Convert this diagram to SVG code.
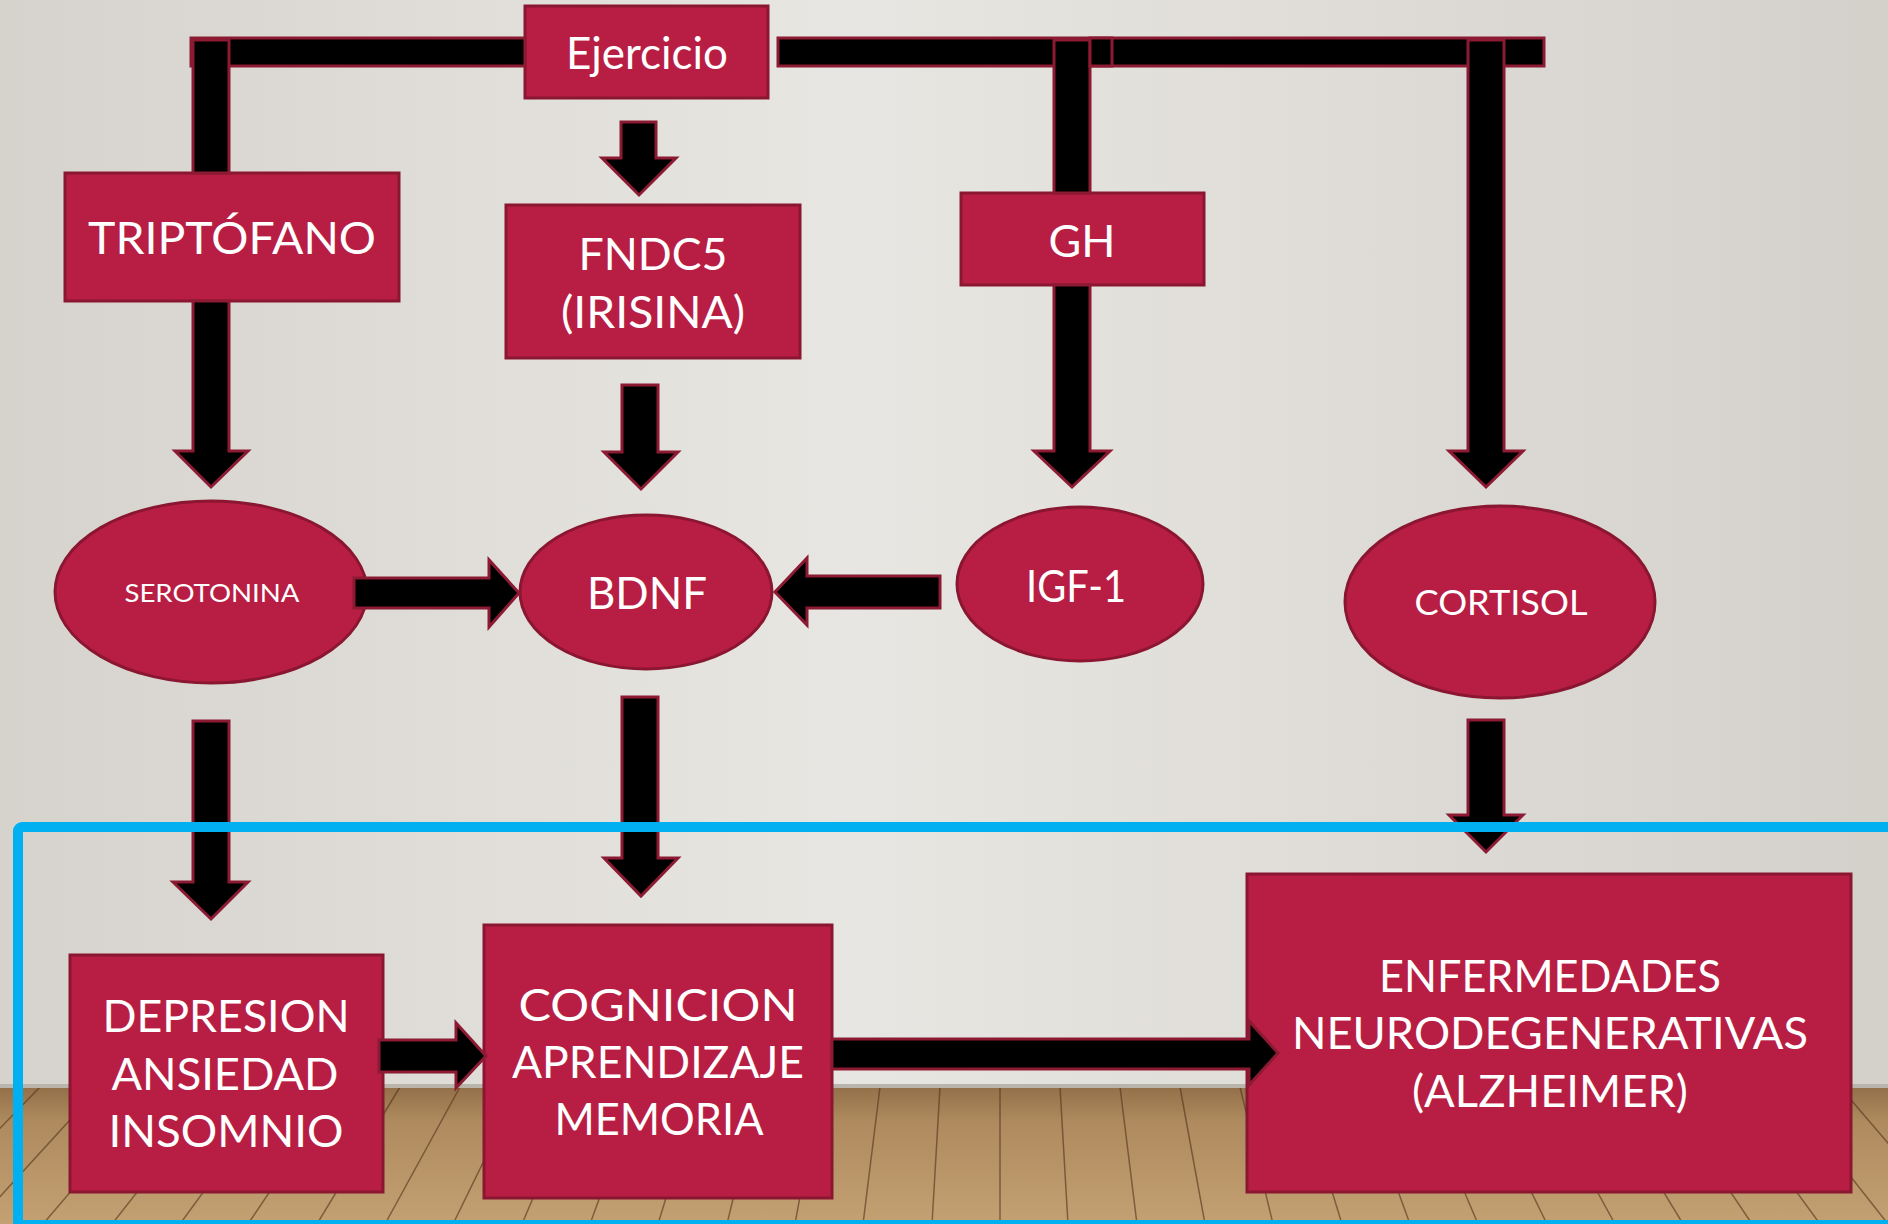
<svg xmlns="http://www.w3.org/2000/svg" width="1888" height="1224" viewBox="0 0 1888 1224">
<defs>
<linearGradient id="wall" x1="0" y1="0" x2="1" y2="0">
<stop offset="0" stop-color="#D6D3CD"/>
<stop offset="0.45" stop-color="#E8E6E2"/>
<stop offset="1" stop-color="#D4D1CB"/>
</linearGradient>
<linearGradient id="floor" x1="0" y1="0" x2="0" y2="1">
<stop offset="0" stop-color="#94704A"/>
<stop offset="0.25" stop-color="#AE8A5E"/>
<stop offset="1" stop-color="#C4A173"/>
</linearGradient>
<style>
.box{fill:#B81E43;stroke:#8A1631;stroke-width:3}
.arrow{fill:#000;stroke:#8C1A33;stroke-width:3;stroke-linejoin:miter}
.t{fill:#fff;font-family:Lato,"Open Sans","Liberation Sans",sans-serif;text-anchor:middle;font-size:45px}
</style>
</defs>
<g id="background">
<rect x="0" y="0" width="1888" height="1224" fill="url(#wall)"/>
<rect x="0" y="1087" width="1888" height="137" fill="url(#floor)"/>
<path d="M-20 1087L-162 1224M40 1087L-93 1224M100 1087L-25 1224M160 1087L43 1224M220 1087L112 1224M280 1087L180 1224M340 1087L248 1224M400 1087L317 1224M460 1087L385 1224M520 1087L453 1224M580 1087L522 1224M640 1087L590 1224M700 1087L658 1224M760 1087L727 1224M820 1087L795 1224M880 1087L863 1224M940 1087L932 1224M1000 1087L1000 1224M1060 1087L1068 1224M1120 1087L1137 1224M1180 1087L1205 1224M1240 1087L1273 1224M1300 1087L1342 1224M1360 1087L1410 1224M1420 1087L1478 1224M1480 1087L1547 1224M1540 1087L1615 1224M1600 1087L1683 1224M1660 1087L1752 1224M1720 1087L1820 1224M1780 1087L1888 1224M1840 1087L1957 1224" stroke="#4E3319" stroke-width="1.5" stroke-opacity="0.6" fill="none"/>
<rect x="0" y="1084" width="1888" height="4" fill="#B9B4AC"/>
</g>
<g id="nodes">
<g id="ejercicio"><rect class="box" x="525" y="6" width="243" height="92"/><text class="t" x="647" y="69" textLength="162" lengthAdjust="spacingAndGlyphs">Ejercicio</text></g>
<g id="triptofano"><rect class="box" x="65" y="173" width="334" height="128"/><text class="t" x="232" y="254" textLength="288" lengthAdjust="spacingAndGlyphs">TRIPTÓFANO</text></g>
<g id="fndc5"><rect class="box" x="506" y="205" width="294" height="153"/><text class="t" x="653" y="270" textLength="149" lengthAdjust="spacingAndGlyphs">FNDC5</text><text class="t" x="653" y="328" textLength="184" lengthAdjust="spacingAndGlyphs">(IRISINA)</text></g>
<g id="gh"><rect class="box" x="961" y="193" width="243" height="92"/><text class="t" x="1082" y="257" textLength="67" lengthAdjust="spacingAndGlyphs">GH</text></g>
<g id="serotonina"><ellipse class="box" cx="211" cy="592" rx="156" ry="91"/><text class="t" x="212" y="602" style="font-size:25px" textLength="175" lengthAdjust="spacingAndGlyphs">SEROTONINA</text></g>
<g id="bdnf"><ellipse class="box" cx="646" cy="592" rx="126" ry="77"/><text class="t" x="647" y="609" textLength="120" lengthAdjust="spacingAndGlyphs">BDNF</text></g>
<g id="igf1"><ellipse class="box" cx="1080" cy="584" rx="123" ry="77"/><text class="t" x="1076" y="602" textLength="100" lengthAdjust="spacingAndGlyphs">IGF-1</text></g>
<g id="cortisol"><ellipse class="box" cx="1500" cy="602" rx="155" ry="96"/><text class="t" x="1501" y="615" style="font-size:35px" textLength="173" lengthAdjust="spacingAndGlyphs">CORTISOL</text></g>
<g id="depresion"><rect class="box" x="70" y="955" width="313" height="237"/><text class="t" x="226" y="1032" textLength="247" lengthAdjust="spacingAndGlyphs">DEPRESION</text><text class="t" x="225" y="1090" textLength="227" lengthAdjust="spacingAndGlyphs">ANSIEDAD</text><text class="t" x="226" y="1147" textLength="235" lengthAdjust="spacingAndGlyphs">INSOMNIO</text></g>
<g id="cognicion"><rect class="box" x="484" y="925" width="348" height="273"/><text class="t" x="658" y="1021" textLength="279" lengthAdjust="spacingAndGlyphs">COGNICION</text><text class="t" x="658" y="1078" textLength="292" lengthAdjust="spacingAndGlyphs">APRENDIZAJE</text><text class="t" x="659" y="1135" textLength="209" lengthAdjust="spacingAndGlyphs">MEMORIA</text></g>
<g id="enfermedades"><rect class="box" x="1247" y="874" width="604" height="318"/><text class="t" x="1550" y="992" style="font-size:44px" textLength="342" lengthAdjust="spacingAndGlyphs">ENFERMEDADES</text><text class="t" x="1550" y="1049" style="font-size:44px" textLength="516" lengthAdjust="spacingAndGlyphs">NEURODEGENERATIVAS</text><text class="t" x="1550" y="1107" style="font-size:44px" textLength="276" lengthAdjust="spacingAndGlyphs">(ALZHEIMER)</text></g>
</g>
<g id="connectors">
<rect class="arrow" x="191" y="38" width="334" height="28"/>
<rect class="arrow" x="778" y="38" width="766" height="28"/>
<rect class="arrow" x="193" y="40" width="36" height="133"/>
<rect class="arrow" x="1054" y="40" width="36" height="153"/>
<rect class="arrow" x="1090" y="38" width="22" height="28"/>
<polygon class="arrow" points="1468,40 1504,40 1504,451 1523,451 1486,487 1449,451 1468,451"/>
<polygon class="arrow" points="193,301 229,301 229,451 248,451 211,487 175,451 193,451"/>
<polygon class="arrow" points="621,122 656,122 656,158 676,158 639,195 602,158 621,158"/>
<polygon class="arrow" points="622,385 658,385 658,452 678,452 641,489 604,452 622,452"/>
<polygon class="arrow" points="1054,285 1090,285 1090,451 1110,451 1072,487 1034,451 1054,451"/>
<polygon class="arrow" points="193,721 229,721 229,882 248,882 211,919 173,882 193,882"/>
<polygon class="arrow" points="622,697 658,697 658,858 678,858 641,896 604,858 622,858"/>
<polygon class="arrow" points="1468,720 1504,720 1504,815 1523,815 1486,852 1449,815 1468,815"/>
<polygon class="arrow" points="354,578 489,578 489,560 519,593 489,627 489,608 354,608"/>
<polygon class="arrow" points="940,576 807,576 807,558 775,592 807,625 807,608 940,608"/>
<polygon class="arrow" points="379,1040 456,1040 456,1023 486,1056 456,1088 456,1072 379,1072"/>
<polygon class="arrow" points="832,1039 1249,1039 1249,1021 1278,1053 1249,1085 1249,1069 832,1069"/>
</g>
<rect id="highlight" x="18" y="827" width="1890" height="398" rx="4" fill="none" stroke="#00B0F0" stroke-width="10"/>
</svg>
